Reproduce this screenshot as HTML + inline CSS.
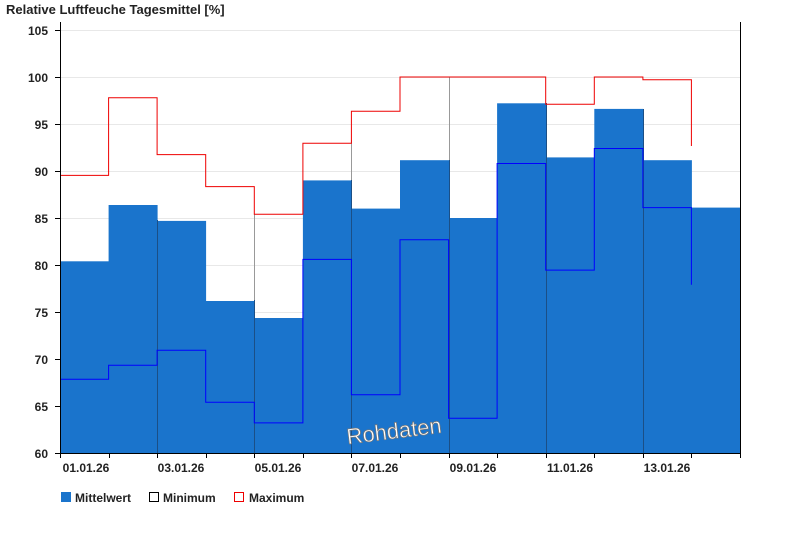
<!DOCTYPE html>
<html><head><meta charset="utf-8"><style>body{margin:0;background:#fff}svg{display:block;font-family:"Liberation Sans",Arial,sans-serif;font-weight:bold}</style></head>
<body>
<svg width="800" height="550" viewBox="0 0 800 550" xmlns="http://www.w3.org/2000/svg">
<text x="6" y="14" font-size="13" fill="#222">Relative Luftfeuche Tagesmittel [%]</text>
<g stroke="#e8e8e8" stroke-width="1">
<line x1="60" x2="740" y1="30.5" y2="30.5"/><line x1="60" x2="740" y1="77.5" y2="77.5"/><line x1="60" x2="740" y1="124.5" y2="124.5"/><line x1="60" x2="740" y1="171.5" y2="171.5"/><line x1="60" x2="740" y1="218.5" y2="218.5"/><line x1="60" x2="740" y1="265.5" y2="265.5"/><line x1="60" x2="740" y1="312.5" y2="312.5"/><line x1="60" x2="740" y1="359.5" y2="359.5"/><line x1="60" x2="740" y1="406.5" y2="406.5"/>
</g>
<g fill="#1a74cc">
<rect x="60" y="261.3" width="49" height="191.7"/>
<rect x="108.6" y="205" width="49" height="248"/>
<rect x="157.1" y="220.9" width="49" height="232.1"/>
<rect x="205.7" y="301" width="49" height="152"/>
<rect x="254.3" y="318" width="49" height="135"/>
<rect x="302.9" y="180.4" width="49" height="272.6"/>
<rect x="351.4" y="208.6" width="49" height="244.4"/>
<rect x="400" y="160.2" width="49" height="292.8"/>
<rect x="448.6" y="218" width="49" height="235"/>
<rect x="497.1" y="103.3" width="49" height="349.7"/>
<rect x="545.7" y="157.4" width="49" height="295.6"/>
<rect x="594.3" y="108.9" width="49" height="344.1"/>
<rect x="642.9" y="160.2" width="49" height="292.8"/>
<rect x="691.4" y="207.6" width="48.6" height="245.4"/>
</g>
<g stroke="#1b4f86" stroke-width="1">
<line x1="157.5" x2="157.5" y1="220" y2="453"/><line x1="254.5" x2="254.5" y1="300" y2="453"/><line x1="351.5" x2="351.5" y1="180" y2="453"/><line x1="449.5" x2="449.5" y1="160" y2="453"/><line x1="546.5" x2="546.5" y1="103" y2="453"/><line x1="643.5" x2="643.5" y1="109" y2="453"/>
</g>
<g stroke="#999" stroke-width="1">
<line x1="254.5" x2="254.5" y1="214" y2="300"/><line x1="351.5" x2="351.5" y1="140" y2="180"/><line x1="449.5" x2="449.5" y1="77" y2="160"/>
</g>
<polyline fill="none" stroke="#00f" stroke-width="1" points="60,379.3 108.6,379.3 108.6,365.2 157.1,365.2 157.1,350.2 205.7,350.2 205.7,402.2 254.3,402.2 254.3,422.9 302.9,422.9 302.9,259.4 351.4,259.4 351.4,394.7 400,394.7 400,239.7 448.6,239.7 448.6,418.2 497.1,418.2 497.1,163.5 545.7,163.5 545.7,270.1 594.3,270.1 594.3,148.5 642.9,148.5 642.9,207.6 691.4,207.6 691.4,284.8"/>
<polyline fill="none" stroke="#e00" stroke-width="1" points="60,175.4 108.6,175.4 108.6,97.7 157.1,97.7 157.1,154.6 205.7,154.6 205.7,186.6 254.3,186.6 254.3,214.3 302.9,214.3 302.9,143.2 351.4,143.2 351.4,111.2 400,111.2 400,77 448.6,77 497.1,77 545.7,77 545.7,104.3 594.3,104.3 594.3,77 642.9,77 642.9,79.8 691.4,79.8 691.4,146"/>
<line x1="60.5" x2="60.5" y1="22" y2="453" stroke="#000"/>
<line x1="740.5" x2="740.5" y1="22" y2="458" stroke="#000"/>
<line x1="60" x2="741" y1="453.5" y2="453.5" stroke="#000"/>
<g stroke="#000">
<line x1="55" x2="60" y1="30.5" y2="30.5"/><line x1="55" x2="60" y1="77.5" y2="77.5"/><line x1="55" x2="60" y1="124.5" y2="124.5"/><line x1="55" x2="60" y1="171.5" y2="171.5"/><line x1="55" x2="60" y1="218.5" y2="218.5"/><line x1="55" x2="60" y1="265.5" y2="265.5"/><line x1="55" x2="60" y1="312.5" y2="312.5"/><line x1="55" x2="60" y1="359.5" y2="359.5"/><line x1="55" x2="60" y1="406.5" y2="406.5"/><line x1="55" x2="60" y1="453.5" y2="453.5"/>
<line x1="60.5" x2="60.5" y1="453" y2="458"/><line x1="109.5" x2="109.5" y1="453" y2="458"/><line x1="157.5" x2="157.5" y1="453" y2="458"/><line x1="206.5" x2="206.5" y1="453" y2="458"/><line x1="254.5" x2="254.5" y1="453" y2="458"/><line x1="303.5" x2="303.5" y1="453" y2="458"/><line x1="351.5" x2="351.5" y1="453" y2="458"/><line x1="400.5" x2="400.5" y1="453" y2="458"/><line x1="449.5" x2="449.5" y1="453" y2="458"/><line x1="497.5" x2="497.5" y1="453" y2="458"/><line x1="546.5" x2="546.5" y1="453" y2="458"/><line x1="594.5" x2="594.5" y1="453" y2="458"/><line x1="643.5" x2="643.5" y1="453" y2="458"/><line x1="691.5" x2="691.5" y1="453" y2="458"/>
</g>
<g font-size="12" fill="#222" text-anchor="end">
<text x="48" y="35">105</text><text x="48" y="82">100</text><text x="48" y="129">95</text><text x="48" y="176">90</text><text x="48" y="223">85</text><text x="48" y="270">80</text><text x="48" y="317">75</text><text x="48" y="364">70</text><text x="48" y="411">65</text><text x="48" y="458">60</text>
</g>
<g font-size="12" fill="#222" text-anchor="middle">
<text x="86" y="472">01.01.26</text><text x="181" y="472">03.01.26</text><text x="278" y="472">05.01.26</text><text x="375" y="472">07.01.26</text><text x="473" y="472">09.01.26</text><text x="570" y="472">11.01.26</text><text x="667" y="472">13.01.26</text>
</g>
<text x="346" y="438" font-size="22" font-weight="normal" fill="#fff" stroke="#777" stroke-width="0.7" transform="rotate(-7 398 428)">Rohdaten</text>
<g font-size="12" fill="#222">
<rect x="61" y="492" width="10" height="10" fill="#1a74cc"/><text x="75" y="502">Mittelwert</text>
<rect x="149.5" y="492.5" width="9" height="9" fill="#fff" stroke="#000"/><text x="163" y="502">Minimum</text>
<rect x="234.5" y="492.5" width="9" height="9" fill="#fff" stroke="#e00"/><text x="249" y="502">Maximum</text>
</g>
</svg>
</body></html>
